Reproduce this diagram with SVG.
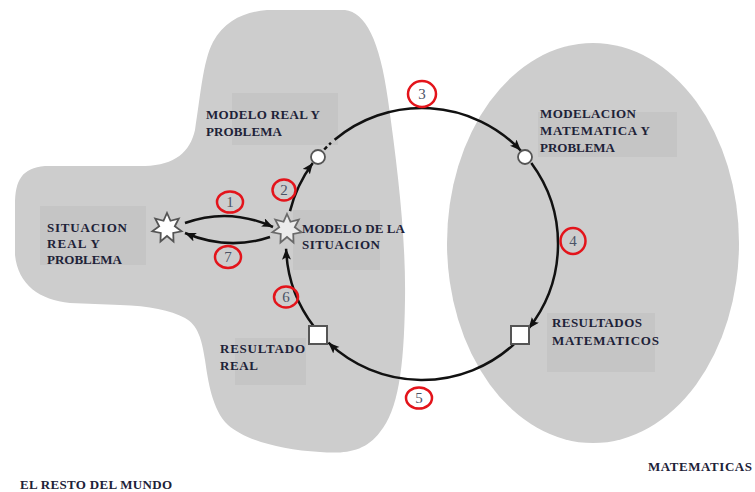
<svg xmlns="http://www.w3.org/2000/svg" width="755" height="492" viewBox="0 0 755 492">
<style>
.region{fill:#cdcdcd;stroke:none}
.lbox{fill:#c5c5c5;stroke:none}
.lbl{font-family:"Liberation Serif","DejaVu Serif",serif;font-weight:bold;font-size:13px;fill:#1d2238}
.conn{fill:none;stroke:#111;stroke-width:2.5}
.ring{fill:none;stroke:#e3141b;stroke-width:2.5}
.num{font-family:"Liberation Serif","DejaVu Serif",serif;font-size:15px;fill:#4b5366;text-anchor:middle}
.cnode{fill:#fff;stroke:#555;stroke-width:1.8}
.snode{fill:#fff;stroke:#555;stroke-width:2}
</style>
<defs>
<marker id="ah" markerUnits="userSpaceOnUse" markerWidth="12" markerHeight="10" refX="11" refY="4.5" orient="auto">
<path d="M0,0 L11,4.5 L0,9 L2.5,4.5 Z" fill="#111"/>
</marker>
<polygon id="star" points="0,-15 3.47,-7.21 11.73,-9.35 7.8,-1.78 14.62,3.34 6.25,4.99 6.51,13.52 0,8 -6.51,13.52 -6.25,4.99 -14.62,3.34 -7.8,-1.78 -11.73,-9.35 -3.47,-7.21"/>
</defs>
<rect width="755" height="492" fill="#fff"/>
<g id="regions">
<path class="region" d="M267,10 L345,10 C365,12 380,40 388,100 C398,170 406,240 405,300 C404,370 398,410 380,432 C365,452 345,454 320,452 C280,450 245,440 228,425 C212,410 208,380 205,360 C202,340 198,325 185,318 C170,310 150,306 120,305 L70,303 C40,300 18,285 15,255 L15,205 C15,180 22,168 45,166 L145,166 C175,165 190,152 195,130 C200,100 203,60 213,42 C225,20 245,12 267,10 Z"/>
<ellipse class="region" cx="593" cy="243" rx="146" ry="200"/>
</g>
<g id="label-boxes">
<rect class="lbox" x="232" y="93" width="106" height="52"/>
<rect class="lbox" x="538" y="112" width="139" height="45"/>
<rect class="lbox" x="40" y="206" width="106" height="59"/>
<rect class="lbox" x="293" y="210" width="87" height="60"/>
<rect class="lbox" x="547" y="313" width="108" height="59"/>
<rect class="lbox" x="235" y="338" width="71" height="47"/>
</g>
<g id="connectors">
<path class="conn" d="M185,223 Q229,207 273,227" marker-end="url(#ah)"/>
<path class="conn" d="M270,237 Q228,251 185,233" marker-end="url(#ah)"/>
<path class="conn" d="M290.0,211.1 A136,136 0 0 1 312.8,162.9" marker-end="url(#ah)"/>
<path class="conn" d="M324.2,149.5 A136,136 0 0 1 331.0,142.9" stroke-dasharray="4 3"/>
<path class="conn" d="M334.6,139.8 A136,136 0 0 1 520.8,150.6" marker-end="url(#ah)"/>
<path class="conn" d="M531.3,163.1 A136,136 0 0 1 528.6,328.5" marker-end="url(#ah)"/>
<path class="conn" d="M513.9,344.3 A136,136 0 0 1 328.4,342.7" marker-end="url(#ah)"/>
<path class="conn" d="M314.1,326.8 A136,136 0 0 1 286.1,248.7" marker-end="url(#ah)"/>
</g>
<g id="n-situacion">
<use href="#star" transform="translate(167,228)" fill="#fff" stroke="#555" stroke-width="1.8"/>
<text class="lbl" x="47" y="232" textLength="80" lengthAdjust="spacing">SITUACION</text>
<text class="lbl" x="47" y="248" textLength="53" lengthAdjust="spacing">REAL Y</text>
<text class="lbl" x="47" y="264" textLength="75" lengthAdjust="spacing">PROBLEMA</text>
</g>
<g id="n-modelo-situacion">
<use href="#star" transform="translate(287,229)" fill="#ececec" stroke="#6a6a6a" stroke-width="1.8"/>
<text class="lbl" x="302" y="233" textLength="103" lengthAdjust="spacing">MODELO DE LA</text>
<text class="lbl" x="302" y="249" textLength="78" lengthAdjust="spacing">SITUACION</text>
</g>
<g id="n-modelo-real">
<circle class="cnode" cx="318" cy="157" r="7"/>
<text class="lbl" x="206" y="119" textLength="114" lengthAdjust="spacing">MODELO REAL Y</text>
<text class="lbl" x="206" y="136" textLength="76" lengthAdjust="spacing">PROBLEMA</text>
</g>
<g id="n-modelacion">
<circle class="cnode" cx="525" cy="157" r="7"/>
<text class="lbl" x="540" y="118" textLength="96" lengthAdjust="spacing">MODELACION</text>
<text class="lbl" x="540" y="135" textLength="110" lengthAdjust="spacing">MATEMATICA Y</text>
<text class="lbl" x="540" y="152" textLength="75" lengthAdjust="spacing">PROBLEMA</text>
</g>
<g id="n-resultados-mat">
<rect class="snode" x="511" y="326" width="18" height="18"/>
<text class="lbl" x="552" y="327" textLength="90" lengthAdjust="spacing">RESULTADOS</text>
<text class="lbl" x="552" y="345" textLength="107" lengthAdjust="spacing">MATEMATICOS</text>
</g>
<g id="n-resultado-real">
<rect class="snode" x="309" y="326" width="18" height="18"/>
<text class="lbl" x="220" y="353" textLength="85" lengthAdjust="spacing">RESULTADO</text>
<text class="lbl" x="220" y="370" textLength="38" lengthAdjust="spacing">REAL</text>
</g>
<g id="steps">
<ellipse class="ring" cx="230" cy="202" rx="13" ry="10.5"/><text class="num" x="230" y="207">1</text>
<ellipse class="ring" cx="284" cy="190" rx="11.5" ry="10.5"/><text class="num" x="284" y="195">2</text>
<ellipse class="ring" cx="422" cy="94" rx="14" ry="13"/><text class="num" x="422" y="99">3</text>
<ellipse class="ring" cx="573" cy="241" rx="12.5" ry="13"/><text class="num" x="573" y="246">4</text>
<ellipse class="ring" cx="419" cy="398" rx="13" ry="10.5"/><text class="num" x="419" y="403">5</text>
<ellipse class="ring" cx="286" cy="297" rx="12" ry="10.5"/><text class="num" x="286" y="302">6</text>
<ellipse class="ring" cx="228" cy="257" rx="13" ry="11"/><text class="num" x="228" y="262">7</text>
</g>
<g id="region-labels">
<text class="lbl" x="20" y="489" textLength="152" lengthAdjust="spacing">EL RESTO DEL MUNDO</text>
<text class="lbl" x="648" y="471" textLength="104" lengthAdjust="spacing">MATEMATICAS</text>
</g>
</svg>
